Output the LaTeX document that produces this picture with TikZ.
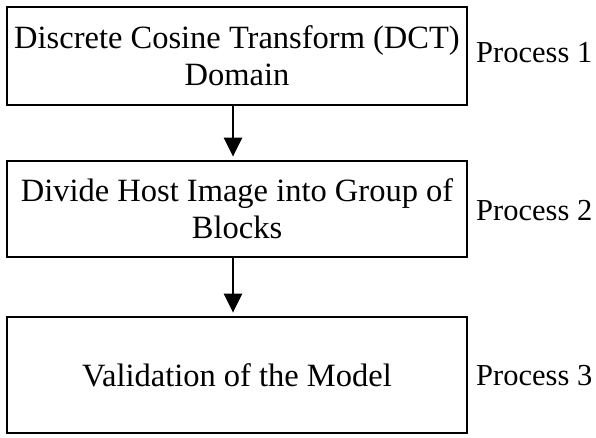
\documentclass[tikz,border=0pt]{standalone}
\usepackage{fontspec}
\setmainfont{Liberation Serif}
\usetikzlibrary{arrows.meta}
\begin{document}
\begin{tikzpicture}[x=1pt,y=-1pt,
  procbox/.style={draw=black,line width=2.8pt,minimum width=460pt,align=center,font=\fontsize{32.5}{37}\selectfont,inner sep=0pt},
  proclabel/.style={anchor=base west,font=\fontsize{30.5}{37}\selectfont,inner sep=0pt},
  flow/.style={line width=2.4pt,shorten >=3pt,-{Triangle[length=19pt,width=18pt]}}]
\useasboundingbox (0,0) rectangle (596,437);
\node[procbox,minimum height=98pt] (b1) at (237,56) {Discrete Cosine Transform (DCT)\\Domain};
\node[procbox,minimum height=96pt] (b2) at (237,209) {Divide Host Image into Group of\\Blocks};
\node[procbox,minimum height=116pt] (b3) at (237,375) {Validation of the Model};
\node[proclabel] (l1) at (476,62.5) {Process 1};
\node[proclabel] (l2) at (476,220) {Process 2};
\node[proclabel] (l3) at (476,385) {Process 3};
\draw[flow] (b1.south -| 233,0) -- (b2.north -| 233,0);
\draw[flow] (b2.south -| 233,0) -- (b3.north -| 233,0);
\end{tikzpicture}
\end{document}
